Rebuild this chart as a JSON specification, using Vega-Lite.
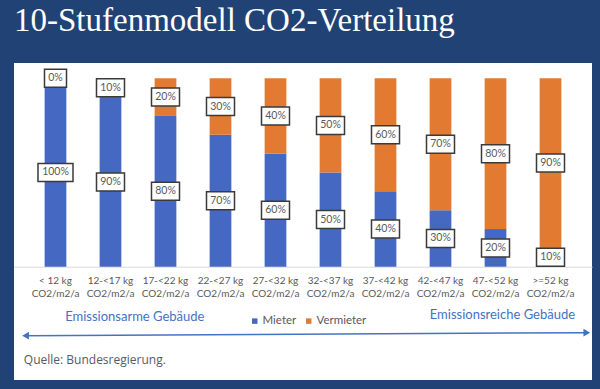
{
  "$schema": "https://vega.github.io/schema/vega-lite/v6.json",
  "width": 578,
  "height": 317,
  "autosize": {"type": "none"},
  "padding": {"left": 14, "top": 63, "right": 8, "bottom": 9},
  "background": "#204275",
  "view": {"fill": "white", "stroke": null},
  "title": {
    "text": "10-Stufenmodell CO2-Verteilung",
    "anchor": "start",
    "frame": "group",
    "font": "Liberation Serif",
    "fontSize": 33,
    "fontWeight": "normal",
    "color": "white",
    "offset": 25
  },
  "datasets": {
    "verteilung": [
      {"stufe": "< 12 kg", "gruppe": "Mieter", "anteil": 100},
      {"stufe": "< 12 kg", "gruppe": "Vermieter", "anteil": 0},
      {"stufe": "12-<17 kg", "gruppe": "Mieter", "anteil": 90},
      {"stufe": "12-<17 kg", "gruppe": "Vermieter", "anteil": 10},
      {"stufe": "17-<22 kg", "gruppe": "Mieter", "anteil": 80},
      {"stufe": "17-<22 kg", "gruppe": "Vermieter", "anteil": 20},
      {"stufe": "22-<27 kg", "gruppe": "Mieter", "anteil": 70},
      {"stufe": "22-<27 kg", "gruppe": "Vermieter", "anteil": 30},
      {"stufe": "27-<32 kg", "gruppe": "Mieter", "anteil": 60},
      {"stufe": "27-<32 kg", "gruppe": "Vermieter", "anteil": 40},
      {"stufe": "32-<37 kg", "gruppe": "Mieter", "anteil": 50},
      {"stufe": "32-<37 kg", "gruppe": "Vermieter", "anteil": 50},
      {"stufe": "37-<42 kg", "gruppe": "Mieter", "anteil": 40},
      {"stufe": "37-<42 kg", "gruppe": "Vermieter", "anteil": 60},
      {"stufe": "42-<47 kg", "gruppe": "Mieter", "anteil": 30},
      {"stufe": "42-<47 kg", "gruppe": "Vermieter", "anteil": 70},
      {"stufe": "47-<52 kg", "gruppe": "Mieter", "anteil": 20},
      {"stufe": "47-<52 kg", "gruppe": "Vermieter", "anteil": 80},
      {"stufe": ">=52 kg", "gruppe": "Mieter", "anteil": 10},
      {"stufe": ">=52 kg", "gruppe": "Vermieter", "anteil": 90}
    ]
  },
  "layer": [
    {
      "data": {"name": "verteilung"},
      "layer": [
        {
          "mark": {"type": "bar"},
          "encoding": {
            "x": {
              "field": "stufe", "type": "nominal", "sort": null,
              "scale": {"paddingInner": 0.605, "paddingOuter": 0.557},
              "axis": {
                "orient": "bottom", "offset": -113.3, "title": null, "ticks": false,
                "domainColor": "#D9D9D9", "domainWidth": 1,
                "labelExpr": "[datum.label, 'CO2/m2/a']",
                "labelFont": "Lato", "labelFontSize": 10, "labelColor": "#595959",
                "labelPadding": 9, "labelLineHeight": 13, "labelAngle": 0,
                "labelOverlap": false, "labelLimit": 100
              }
            },
            "y": {
              "field": "anteil", "type": "quantitative", "stack": "zero",
              "scale": {"domain": [-60.1, 108.1], "nice": false, "zero": false},
              "axis": null
            },
            "color": {
              "field": "gruppe", "type": "nominal",
              "scale": {"domain": ["Mieter", "Vermieter"], "range": ["#4569C3", "#E27B31"]},
              "legend": {
                "orient": "none", "legendX": 235, "legendY": 252, "direction": "horizontal",
                "title": null, "symbolType": "square", "symbolSize": 30,
                "labelFont": "Lato", "labelFontSize": 11.5, "labelColor": "#595959",
                "columnPadding": 6, "labelOffset": 2, "padding": 0
              }
            },
            "order": {"field": "gruppe", "sort": "ascending"}
          }
        },
        {
          "transform": [
            {"stack": "anteil", "groupby": ["stufe"], "sort": [{"field": "gruppe", "order": "ascending"}], "as": ["y0", "y1"]},
            {"calculate": "(datum.y0 + datum.y1) / 2", "as": "mitte"},
            {"calculate": "datum.anteil + '%'", "as": "beschriftung"}
          ],
          "layer": [
            {
              "mark": {"type": "point", "filled": true, "fill": "white", "stroke": "#3A3A3A", "strokeWidth": 1.5, "opacity": 1, "size": 1600},
              "encoding": {
                "x": {"field": "stufe", "type": "nominal", "sort": null},
                "y": {"field": "mitte", "type": "quantitative", "scale": {"domain": [-60.1, 108.1], "nice": false, "zero": false}},
                "shape": {
                  "field": "beschriftung", "type": "nominal", "legend": null,
                  "scale": {
                    "domain": ["0%", "10%", "20%", "30%", "40%", "50%", "60%", "70%", "80%", "90%", "100%"],
                    "range": [
                      "M-0.55,-0.45H0.55V0.45H-0.55Z",
                      "M-0.7,-0.45H0.7V0.45H-0.7Z",
                      "M-0.7,-0.45H0.7V0.45H-0.7Z",
                      "M-0.7,-0.45H0.7V0.45H-0.7Z",
                      "M-0.7,-0.45H0.7V0.45H-0.7Z",
                      "M-0.7,-0.45H0.7V0.45H-0.7Z",
                      "M-0.7,-0.45H0.7V0.45H-0.7Z",
                      "M-0.7,-0.45H0.7V0.45H-0.7Z",
                      "M-0.7,-0.45H0.7V0.45H-0.7Z",
                      "M-0.7,-0.45H0.7V0.45H-0.7Z",
                      "M-0.875,-0.45H0.875V0.45H-0.875Z"
                    ]
                  }
                }
              }
            },
            {
              "mark": {"type": "text", "font": "Lato", "fontSize": 10.5, "color": "#595959", "align": "center", "baseline": "middle"},
              "encoding": {
                "x": {"field": "stufe", "type": "nominal", "sort": null},
                "y": {"field": "mitte", "type": "quantitative", "scale": {"domain": [-60.1, 108.1], "nice": false, "zero": false}},
                "text": {"field": "beschriftung"}
              }
            }
          ]
        }
      ]
    },
    {
      "data": {"values": [{}]},
      "layer": [
        {
          "mark": {"type": "rule", "color": "#4472C4", "strokeWidth": 1.5},
          "encoding": {
            "x": {"datum": 2.0, "type": "quantitative", "scale": {"domain": [0, 100]}, "axis": null},
            "x2": {"datum": 99.1},
            "y": {"datum": -36.6, "type": "quantitative", "scale": {"domain": [-60.1, 108.1], "nice": false, "zero": false}},
            "y2": {"datum": -35.0}
          }
        },
        {
          "mark": {"type": "point", "shape": "triangle-left", "filled": true, "color": "#4472C4", "opacity": 1, "size": 60},
          "encoding": {
            "x": {"datum": 2.0, "type": "quantitative", "scale": {"domain": [0, 100]}, "axis": null},
            "y": {"datum": -36.6, "type": "quantitative", "scale": {"domain": [-60.1, 108.1], "nice": false, "zero": false}}
          }
        },
        {
          "mark": {"type": "point", "shape": "triangle-right", "filled": true, "color": "#4472C4", "opacity": 1, "size": 60},
          "encoding": {
            "x": {"datum": 99.1, "type": "quantitative", "scale": {"domain": [0, 100]}, "axis": null},
            "y": {"datum": -35.0, "type": "quantitative", "scale": {"domain": [-60.1, 108.1], "nice": false, "zero": false}}
          }
        },
        {
          "mark": {"type": "text", "font": "Lato", "fontSize": 13, "color": "#4472C4", "align": "center", "baseline": "middle"},
          "encoding": {
            "x": {"datum": 20.9, "type": "quantitative", "scale": {"domain": [0, 100]}, "axis": null},
            "y": {"datum": -26.7, "type": "quantitative", "scale": {"domain": [-60.1, 108.1], "nice": false, "zero": false}},
            "text": {"value": "Emissionsarme Gebäude"}
          }
        },
        {
          "mark": {"type": "text", "font": "Lato", "fontSize": 13, "color": "#4472C4", "align": "center", "baseline": "middle"},
          "encoding": {
            "x": {"datum": 84.5, "type": "quantitative", "scale": {"domain": [0, 100]}, "axis": null},
            "y": {"datum": -25.6, "type": "quantitative", "scale": {"domain": [-60.1, 108.1], "nice": false, "zero": false}},
            "text": {"value": "Emissionsreiche Gebäude"}
          }
        },
        {
          "mark": {"type": "text", "font": "Open Sans", "fontSize": 12, "color": "#555A66", "align": "left", "baseline": "middle"},
          "encoding": {
            "x": {"datum": 1.7, "type": "quantitative", "scale": {"domain": [0, 100]}, "axis": null},
            "y": {"datum": -49.5, "type": "quantitative", "scale": {"domain": [-60.1, 108.1], "nice": false, "zero": false}},
            "text": {"value": "Quelle: Bundesregierung."}
          }
        }
      ]
    }
  ],
  "resolve": {"scale": {"x": "independent"}},
  "config": {"axis": {"grid": false}}
}
